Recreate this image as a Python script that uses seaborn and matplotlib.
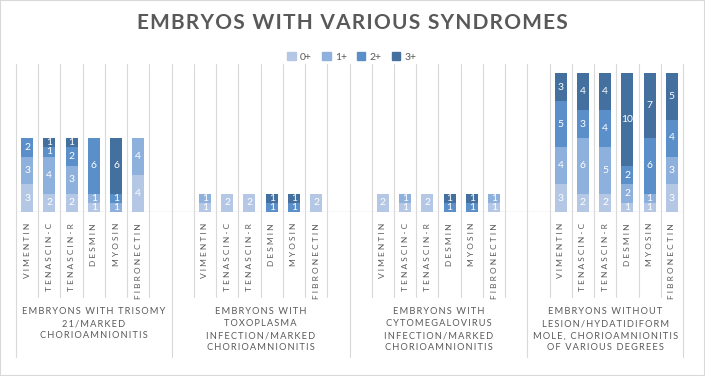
import pandas as pd
import matplotlib
matplotlib.use("Agg")
import matplotlib.pyplot as plt
import matplotlib.transforms as mtransforms
from matplotlib.patches import Rectangle
import seaborn as sns

# markers shown inside every group
markers = ['VIMENTIN', 'TENASCIN-C', 'TENASCIN-R', 'DESMIN', 'MYOSIN', 'FIBRONECTIN']
groups = [
    'EMBRYONS WITH TRISOMY\n21/MARKED\nCHORIOAMNIONITIS',
    'EMBRYONS WITH\nTOXOPLASMA\nINFECTION/MARKED\nCHORIOAMNIONITIS',
    'EMBRYONS WITH\nCYTOMEGALOVIRUS\nINFECTION/MARKED\nCHORIOAMNIONITIS',
    'EMBRYONS WITHOUT\nLESION/HYDATIDIFORM\nMOLE, CHORIOAMNIONITIS\nOF VARIOUS DEGREES',
]
grades = ['0+', '1+', '2+', '3+']

# counts per grade, 6 markers x 4 groups
grade_0 = [3, 2, 2, 1, 0, 4,  1, 2, 2, 0, 0, 2,  2, 1, 2, 0, 0, 1,  3, 2, 2, 1, 1, 3]
grade_1 = [3, 4, 3, 1, 1, 4,  1, 0, 0, 0, 0, 0,  0, 1, 0, 0, 0, 1,  4, 6, 5, 2, 1, 3]
grade_2 = [2, 1, 2, 6, 1, 0,  0, 0, 0, 1, 1, 0,  0, 0, 0, 1, 1, 0,  5, 3, 4, 2, 6, 4]
grade_3 = [0, 1, 1, 0, 6, 0,  0, 0, 0, 1, 1, 0,  0, 0, 0, 1, 1, 0,  3, 4, 4, 10, 7, 5]

colors = ['#b4c7e5', '#8eb0dc', '#5b8fca', '#44709f']
TXT = '#595959'
LINE = '#d9d9d9'


def spaced(s, sep='\u2009'):
    return sep.join(s)


# category slots (Excel leaves an empty slot on each side of a group)
slots, slot_labels, boundaries = [], [], [-0.5]
for g in range(len(groups)):
    if g > 0:
        slots.append(f'{g}|pre'); slot_labels.append('')
    for m in markers:
        slots.append(f'{g}|{m}'); slot_labels.append(m)
    if g < len(groups) - 1:
        slots.append(f'{g}|post'); slot_labels.append('')
    boundaries.append(len(slots) - 0.5)

rows = []
for g in range(len(groups)):
    for j, m in enumerate(markers):
        i = g * len(markers) + j
        rows.append({'slot': f'{g}|{m}', '0+': grade_0[i], '1+': grade_1[i],
                     '2+': grade_2[i], '3+': grade_3[i]})
df = pd.DataFrame(rows)
cum = df[grades].cumsum(axis=1)
for k, gr in enumerate(grades):
    df[f'cum{k}'] = cum[gr]

sns.set_theme(style='white')
plt.rcParams['font.family'] = ['Lato', 'DejaVu Sans']

fig = plt.figure(figsize=(7.05, 3.76), dpi=100)
ax = fig.add_axes([16 / 705, (376 - 212) / 376, 667 / 705, 148 / 376])

# stacked bars: draw the tallest cumulative layer first
for k in reversed(range(len(grades))):
    sns.barplot(data=df, x='slot', y=f'cum{k}', order=slots, color=colors[k],
                width=0.54, saturation=1, errorbar=None, linewidth=0, ax=ax)

# segment labels
pos = {s: i for i, s in enumerate(slots)}
for _, r in df.iterrows():
    base = 0
    for gr in grades:
        v = r[gr]
        if v > 0:
            ax.text(pos[r['slot']], base + v / 2, str(v), ha='center', va='center',
                    color='white', fontsize=7.5)
        base += v

ax.set_xlim(-0.5, len(slots) - 0.5)
ax.set_ylim(0, 16)
ax.set_xlabel('')
ax.set_ylabel('')
ax.set_yticks([])
for sp in ax.spines.values():
    sp.set_visible(False)
ax.axhline(0, color=LINE, lw=1, zorder=0)

ax.set_xticks(range(len(slots)))
ax.set_xticklabels([spaced(l, ' ') for l in slot_labels], rotation=90,
                   fontsize=6, color=TXT)
ax.tick_params(axis='x', length=0, pad=8)

# category dividers, long ones between groups
trans = mtransforms.blended_transform_factory(ax.transData, ax.transAxes)
for i in range(len(slots) + 1):
    x = i - 0.5
    low = -0.98 if x in boundaries else -0.574
    ax.plot([x, x], [low, 1], transform=trans, color=LINE, lw=0.8,
            clip_on=False, zorder=0)

# group labels
for g, name in enumerate(groups):
    cx = (boundaries[g] + boundaries[g + 1]) / 2
    txt = '\n'.join(spaced(line) for line in name.split('\n'))
    ax.text(cx, -0.645, txt, transform=trans, ha='center', va='top',
            multialignment='center', fontsize=6.7, color=TXT, linespacing=1.42)

handles = [Rectangle((0, 0), 1, 1, color=c) for c in colors]
fig.legend(handles, grades, loc='center', bbox_to_anchor=(352 / 705, 1 - 57 / 376),
           ncol=4, frameon=False, fontsize=7.5, handlelength=0.8, handleheight=0.8,
           handletextpad=0.4, columnspacing=1.0, labelcolor=TXT)

fig.text(352 / 705, 1 - 23 / 376, spaced('EMBRYOS WITH VARIOUS SYNDROMES', '\u200a'),
         ha='center', va='center', fontsize=15, fontweight='bold', color=TXT)

fig.add_artist(Rectangle((0, 0), 1, 1, transform=fig.transFigure, fill=False,
                         edgecolor=LINE, lw=1.5))

fig.savefig('out.png', dpi=100)
